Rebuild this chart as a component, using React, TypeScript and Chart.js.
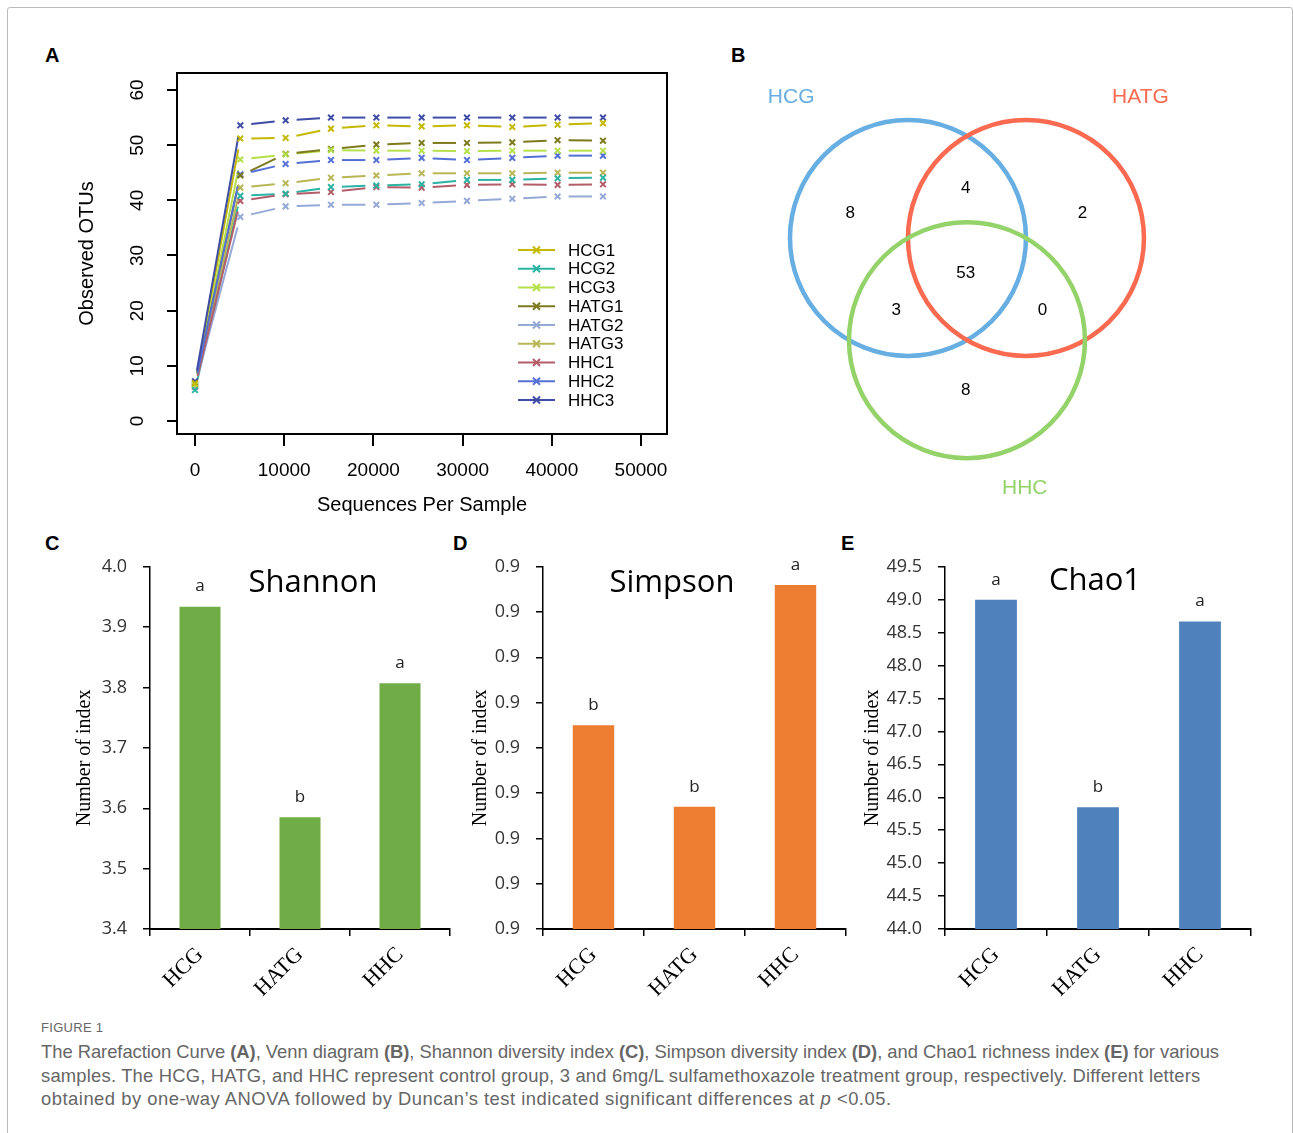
import React, { useEffect, useRef } from 'react';
import { Chart, registerables } from 'chart.js';
Chart.register(...registerables);

// ---------------- Panel A: rarefaction data ----------------
const seqDepths = [0, 5080, 10160, 15240, 20330, 25410, 30490, 35570, 40650, 45740];
const sampleNames = ['HCG1', 'HCG2', 'HCG3', 'HATG1', 'HATG2', 'HATG3', 'HHC1', 'HHC2', 'HHC3'];
const otuHCG1 = [6.8, 51.2, 51.3, 53.0, 53.6, 53.4, 53.6, 53.3, 53.7, 54.0];
const otuHCG2 = [5.6, 40.8, 41.2, 42.4, 42.7, 42.9, 43.7, 43.7, 44.0, 44.1];
const otuHCG3 = [6.5, 47.4, 48.3, 49.1, 49.0, 49.0, 48.9, 49.0, 49.0, 49.0];
const otuHATG1 = [6.9, 44.5, 48.4, 49.3, 50.1, 50.4, 50.4, 50.5, 50.9, 50.8];
const otuHATG2 = [6.3, 37.0, 38.9, 39.2, 39.2, 39.5, 39.9, 40.3, 40.7, 40.7];
const otuHATG3 = [6.6, 42.3, 43.1, 44.1, 44.5, 44.9, 44.9, 44.9, 45.0, 45.0];
const otuHHC1 = [6.2, 39.9, 41.1, 41.5, 42.4, 42.3, 42.8, 42.9, 42.8, 42.9];
const otuHHC2 = [6.7, 44.7, 46.6, 47.3, 47.3, 47.7, 47.3, 47.7, 48.1, 48.1];
const otuHHC3 = [7.2, 53.6, 54.5, 55.0, 55.0, 55.0, 55.0, 55.0, 55.0, 55.0];
const otuTicks = [0, 10, 20, 30, 40, 50, 60];
const depthTicks = [0, 10000, 20000, 30000, 40000, 50000];

// ---------------- Panel B: Venn data ----------------
const vennSets = ['HCG', 'HATG', 'HHC'];
const vennRegionCounts = [8, 4, 2, 53, 3, 0, 8]; // HCG only, HCG∩HATG, HATG only, all, HCG∩HHC, HATG∩HHC, HHC only

// ---------------- Panels C-E: alpha diversity ----------------
const groups = ['HCG', 'HATG', 'HHC'];
const shannonValues = [3.934, 3.585, 3.807];
const shannonLetters = ['a', 'b', 'a'];
const shannonTicks = [3.4, 3.5, 3.6, 3.7, 3.8, 3.9, 4.0];
const simpsonValues = [0.9345, 0.9327, 0.9376];
const simpsonLetters = ['b', 'b', 'a'];
const simpsonTicks = [0.930, 0.931, 0.932, 0.933, 0.934, 0.935, 0.936, 0.937, 0.938];
const chao1Values = [49.0, 45.85, 48.67];
const chao1Letters = ['a', 'b', 'a'];
const chao1Ticks = [44.0, 44.5, 45.0, 45.5, 46.0, 46.5, 47.0, 47.5, 48.0, 48.5, 49.0, 49.5];

// ---------------- styles & layout ----------------
const SANS = '"Liberation Sans", Arial, Helvetica, sans-serif';
const SERIF = '"Liberation Serif", "Times New Roman", serif';
const OPEN = '"Open Sans", "Liberation Sans", sans-serif';
const sampleColors = ['#c4b800', '#2bb3a3', '#b5e04a', '#7d7a1e', '#94a9d6', '#b9b655', '#b35d6b', '#5470d6', '#3e4ca5'];
const vennColors = ['#67aee3', '#fa6a50', '#93d36a'];

type Rect = { left: number; top: number; width: number; height: number };
type Area = { left: number; top: number; right: number; bottom: number };

function fitLayout(c: Rect, a: Area) {
  return {
    padding: { top: a.top - c.top, right: c.left + c.width - a.right, left: 0, bottom: 0 },
    yWidth: a.left - c.left,
    xHeight: c.top + c.height - a.bottom,
  };
}

const A_CANVAS: Rect = { left: 40, top: 40, width: 660, height: 490 };
const A_AREA: Area = { left: 177, top: 73, right: 667, bottom: 434 };

function rarefactionConfig() {
  const fit = fitLayout(A_CANVAS, A_AREA);
  const series = [otuHCG1, otuHCG2, otuHCG3, otuHATG1, otuHATG2, otuHATG3, otuHHC1, otuHHC2, otuHHC3];
  const datasets = sampleNames.map((name, i) => ({
    label: name,
    data: seqDepths.map((x, k) => ({ x, y: series[i][k] })),
    borderColor: sampleColors[i],
    backgroundColor: sampleColors[i],
    showLine: false,
    pointStyle: 'crossRot',
    pointRadius: 4,
    pointBorderWidth: 2,
  }));
  const plugin = {
    id: 'rareDecor',
    beforeDatasetsDraw(chart: any) {
      const ctx = chart.ctx;
      chart.data.datasets.forEach((ds: any, i: number) => {
        const pts = chart.getDatasetMeta(i).data;
        ctx.save();
        ctx.strokeStyle = ds.borderColor;
        ctx.lineWidth = 2;
        for (let k = 0; k < pts.length - 1; k++) {
          const a = pts[k], b = pts[k + 1];
          const dx = b.x - a.x, dy = b.y - a.y;
          const len = Math.hypot(dx, dy);
          const g = 11;
          if (len <= 2 * g) continue;
          const ux = dx / len, uy = dy / len;
          ctx.beginPath();
          ctx.moveTo(a.x + ux * g, a.y + uy * g);
          ctx.lineTo(b.x - ux * g, b.y - uy * g);
          ctx.stroke();
        }
        ctx.restore();
      });
    },
    afterDraw(chart: any) {
      const ctx = chart.ctx;
      const ca = chart.chartArea;
      ctx.save();
      ctx.strokeStyle = '#000';
      ctx.lineWidth = 2;
      ctx.strokeRect(ca.left, ca.top, ca.right - ca.left, ca.bottom - ca.top);
      ctx.fillStyle = '#000';
      ctx.font = `19px ${SANS}`;
      ctx.textAlign = 'center';
      ctx.textBaseline = 'middle';
      const ys = chart.scales.y;
      ys.ticks.forEach((t: any) => {
        const py = ys.getPixelForValue(t.value);
        ctx.save();
        ctx.translate(ca.left - 39, py);
        ctx.rotate(-Math.PI / 2);
        ctx.fillText(String(t.value), 0, 0);
        ctx.restore();
      });
      const xs = chart.scales.x;
      xs.ticks.forEach((t: any) => {
        ctx.fillText(String(t.value), xs.getPixelForValue(t.value), ca.bottom + 37);
      });
      ctx.font = `20px ${SANS}`;
      ctx.fillText('Sequences Per Sample', (ca.left + ca.right) / 2, ca.bottom + 71);
      ctx.save();
      ctx.translate(ca.left - 90, (ca.top + ca.bottom) / 2);
      ctx.rotate(-Math.PI / 2);
      ctx.fillText('Observed OTUs', 0, 0);
      ctx.restore();
      // legend
      ctx.font = `17px ${SANS}`;
      ctx.textAlign = 'left';
      chart.data.datasets.forEach((ds: any, i: number) => {
        const y = ca.top + 177 + i * 18.75;
        const x0 = ca.left + 341;
        ctx.strokeStyle = ds.borderColor;
        ctx.lineWidth = 2;
        ctx.beginPath();
        ctx.moveTo(x0, y);
        ctx.lineTo(x0 + 37, y);
        ctx.stroke();
        const mx = x0 + 18.5, r = 3.5;
        ctx.beginPath();
        ctx.moveTo(mx - r, y - r); ctx.lineTo(mx + r, y + r);
        ctx.moveTo(mx - r, y + r); ctx.lineTo(mx + r, y - r);
        ctx.stroke();
        ctx.fillStyle = '#000';
        ctx.fillText(ds.label, x0 + 50, y + 1);
      });
      ctx.restore();
    },
  };
  return {
    type: 'scatter',
    data: { datasets },
    options: {
      responsive: false,
      animation: false,
      devicePixelRatio: 1,
      layout: { padding: fit.padding },
      plugins: { legend: { display: false }, tooltip: { enabled: false } },
      scales: {
        x: {
          type: 'linear', min: -2020, max: 52915,
          afterBuildTicks: (s: any) => { s.ticks = depthTicks.map((v) => ({ value: v })); },
          afterFit: (s: any) => { s.height = fit.xHeight; },
          ticks: { display: false },
          grid: { drawOnChartArea: false, color: '#000', lineWidth: 2, tickLength: 12 },
          border: { display: false },
        },
        y: {
          type: 'linear', min: -2.36, max: 63.08,
          afterBuildTicks: (s: any) => { s.ticks = otuTicks.map((v) => ({ value: v })); },
          afterFit: (s: any) => { s.width = fit.yWidth; },
          ticks: { display: false },
          grid: { drawOnChartArea: false, color: '#000', lineWidth: 2, tickLength: 10 },
          border: { display: false },
        },
      },
    },
    plugins: [plugin],
  };
}

// Venn geometry (unit radius, centres one radius apart)
const VENN_CANVAS: Rect = { left: 720, top: 40, width: 560, height: 480 };
const VENN_CENTERS = [{ x: 0, y: 0 }, { x: 1, y: 0 }, { x: 0.5, y: -0.866 }];
const VENN_RADIUS = 1;
const VENN_REGION_POS = [
  { x: -0.49, y: 0.21 }, { x: 0.49, y: 0.42 }, { x: 1.48, y: 0.21 }, { x: 0.49, y: -0.30 },
  { x: -0.10, y: -0.61 }, { x: 1.14, y: -0.61 }, { x: 0.49, y: -1.29 },
];
const VENN_LABEL_POS = [{ x: -0.99, y: 1.19 }, { x: 1.97, y: 1.19 }, { x: 0.99, y: -2.12 }];

function vennConfig() {
  const plugin = {
    id: 'venn',
    afterDatasetsDraw(chart: any) {
      const ctx = chart.ctx;
      const xs = chart.scales.x;
      const rPx = xs.getPixelForValue(VENN_RADIUS) - xs.getPixelForValue(0);
      ctx.save();
      chart.getDatasetMeta(0).data.forEach((pt: any, i: number) => {
        ctx.beginPath();
        ctx.arc(pt.x, pt.y, rPx, 0, Math.PI * 2);
        ctx.strokeStyle = vennColors[i];
        ctx.lineWidth = 4.5;
        ctx.stroke();
      });
      ctx.textAlign = 'center';
      ctx.textBaseline = 'middle';
      ctx.font = `17px ${SANS}`;
      ctx.fillStyle = '#000';
      chart.getDatasetMeta(1).data.forEach((pt: any, i: number) => {
        ctx.fillText(String(vennRegionCounts[i]), pt.x, pt.y);
      });
      ctx.font = `21px ${SANS}`;
      chart.getDatasetMeta(2).data.forEach((pt: any, i: number) => {
        ctx.fillStyle = vennColors[i];
        ctx.fillText(vennSets[i], pt.x, pt.y);
      });
      ctx.restore();
    },
  };
  return {
    type: 'scatter',
    data: {
      datasets: [
        { label: 'sets', data: VENN_CENTERS, pointRadius: 0 },
        { label: 'regions', data: VENN_REGION_POS, pointRadius: 0 },
        { label: 'names', data: VENN_LABEL_POS, pointRadius: 0 },
      ],
    },
    options: {
      responsive: false,
      animation: false,
      devicePixelRatio: 1,
      layout: { padding: 0 },
      plugins: { legend: { display: false }, tooltip: { enabled: false } },
      scales: {
        x: { type: 'linear', display: false, min: -1.593, max: 3.153 },
        y: { type: 'linear', display: false, min: -2.390, max: 1.678 },
      },
    },
    plugins: [plugin],
  };
}

type BarSpec = {
  values: number[]; letters: string[]; ticks: number[]; decimals: number; color: string; title: string;
  canvas: Rect; area: Area; titleDx: number; titleDy: number; yTitleDx: number;
};

function barConfig(p: BarSpec) {
  const fit = fitLayout(p.canvas, p.area);
  const plugin = {
    id: 'barDecor',
    afterDatasetsDraw(chart: any) {
      const ctx = chart.ctx;
      const ca = chart.chartArea;
      ctx.save();
      ctx.textAlign = 'center';
      ctx.textBaseline = 'middle';
      ctx.fillStyle = '#222';
      ctx.font = `17px ${OPEN}`;
      chart.getDatasetMeta(0).data.forEach((bar: any, i: number) => {
        ctx.fillText(p.letters[i], bar.x, bar.y - 20);
      });
      ctx.fillStyle = '#000';
      ctx.font = `31px ${OPEN}`;
      ctx.fillText(p.title, ca.left + p.titleDx, ca.top + p.titleDy);
      ctx.font = `20px ${SERIF}`;
      ctx.translate(ca.left + p.yTitleDx, (ca.top + ca.bottom) / 2 + 10);
      ctx.rotate(-Math.PI / 2);
      ctx.fillText('Number of index', 0, 0);
      ctx.restore();
    },
  };
  return {
    type: 'bar',
    data: {
      labels: groups,
      datasets: [{ data: p.values, backgroundColor: p.color, borderWidth: 0, barPercentage: 0.41, categoryPercentage: 1 }],
    },
    options: {
      responsive: false,
      animation: false,
      devicePixelRatio: 1,
      layout: { padding: fit.padding },
      plugins: { legend: { display: false }, tooltip: { enabled: false } },
      scales: {
        x: {
          afterFit: (s: any) => { s.height = fit.xHeight; },
          ticks: { minRotation: 45, maxRotation: 45, autoSkip: false, font: { family: SERIF, size: 22 }, color: '#000', padding: 6 },
          grid: { drawOnChartArea: false, color: '#000', lineWidth: 1.5, tickLength: 7, offset: true },
          border: { color: '#000', width: 2 },
        },
        y: {
          type: 'linear',
          min: p.ticks[0],
          max: p.ticks[p.ticks.length - 1],
          afterBuildTicks: (s: any) => { s.ticks = p.ticks.map((v) => ({ value: v })); },
          afterFit: (s: any) => { s.width = fit.yWidth; },
          ticks: { callback: (v: any) => Number(v).toFixed(p.decimals), font: { family: OPEN, size: 18 }, color: '#333', padding: 16 },
          grid: { drawOnChartArea: false, color: '#000', lineWidth: 1.5, tickLength: 7 },
          border: { color: '#000', width: 1.5 },
        },
      },
    },
    plugins: [plugin],
  };
}

const C_CANVAS: Rect = { left: 30, top: 540, width: 425, height: 470 };
const D_CANVAS: Rect = { left: 455, top: 540, width: 396, height: 470 };
const E_CANVAS: Rect = { left: 850, top: 540, width: 410, height: 470 };

function ChartBox({ rect, make }: { rect: Rect; make: () => any }) {
  const ref = useRef<HTMLCanvasElement>(null);
  useEffect(() => {
    const chart = new Chart(ref.current as HTMLCanvasElement, make());
    return () => chart.destroy();
  }, []);
  return (
    <canvas
      ref={ref}
      width={rect.width}
      height={rect.height}
      style={{ position: 'absolute', left: rect.left, top: rect.top, width: rect.width, height: rect.height }}
    />
  );
}

function PanelLetter({ text, x, y }: { text: string; x: number; y: number }) {
  return (
    <div style={{ position: 'absolute', left: x, top: y - 11, font: `bold 20px ${SANS}`, lineHeight: '22px', color: '#000' }}>
      {text}
    </div>
  );
}

export default function App() {
  const capStyle: React.CSSProperties = {
    position: 'absolute', left: 41, whiteSpace: 'nowrap', font: `18.4px ${SANS}`, lineHeight: '22px', color: '#666',
  };
  return (
    <div style={{ position: 'absolute', left: 0, top: 0, width: 1293, height: 1133, background: '#fff', overflow: 'hidden' }}>
      <div style={{ position: 'absolute', left: 7, top: 7, width: 1284, height: 1150, border: '1px solid #bbb', borderRadius: 3 }} />
      <PanelLetter text="A" x={45} y={55} />
      <PanelLetter text="B" x={731} y={55} />
      <PanelLetter text="C" x={45} y={543} />
      <PanelLetter text="D" x={453} y={543} />
      <PanelLetter text="E" x={841} y={543} />
      <ChartBox rect={A_CANVAS} make={rarefactionConfig} />
      <ChartBox rect={VENN_CANVAS} make={vennConfig} />
      <ChartBox
        rect={C_CANVAS}
        make={() => barConfig({
          values: shannonValues, letters: shannonLetters, ticks: shannonTicks, decimals: 1, color: '#70ad47', title: 'Shannon',
          canvas: C_CANVAS, area: { left: 150, top: 563, right: 450, bottom: 929 }, titleDx: 163, titleDy: 16, yTitleDx: -65,
        })}
      />
      <ChartBox
        rect={D_CANVAS}
        make={() => barConfig({
          values: simpsonValues, letters: simpsonLetters, ticks: simpsonTicks, decimals: 1, color: '#ed7d31', title: 'Simpson',
          canvas: D_CANVAS, area: { left: 543, top: 563, right: 846, bottom: 929 }, titleDx: 129, titleDy: 16, yTitleDx: -62,
        })}
      />
      <ChartBox
        rect={E_CANVAS}
        make={() => barConfig({
          values: chao1Values, letters: chao1Letters, ticks: chao1Ticks, decimals: 1, color: '#4f81bd', title: 'Chao1',
          canvas: E_CANVAS, area: { left: 945, top: 563, right: 1251, bottom: 929 }, titleDx: 150, titleDy: 14, yTitleDx: -72,
        })}
      />
      <div style={{ position: 'absolute', left: 41, top: 1020, font: `13px ${SANS}`, lineHeight: '16px', color: '#666', letterSpacing: 0.3 }}>
        FIGURE 1
      </div>
      <div style={{ ...capStyle, top: 1041, letterSpacing: -0.04 }}>
        The Rarefaction Curve <b>(A)</b>, Venn diagram <b>(B)</b>, Shannon diversity index <b>(C)</b>, Simpson diversity index <b>(D)</b>, and Chao1 richness index <b>(E)</b> for various
      </div>
      <div style={{ ...capStyle, top: 1065, letterSpacing: 0.2 }}>
        samples. The HCG, HATG, and HHC represent control group, 3 and 6mg/L sulfamethoxazole treatment group, respectively. Different letters
      </div>
      <div style={{ ...capStyle, top: 1088, letterSpacing: 0.5 }}>
        obtained by one-way ANOVA followed by Duncan’s test indicated significant differences at <i>p</i> &lt;0.05.
      </div>
    </div>
  );
}
